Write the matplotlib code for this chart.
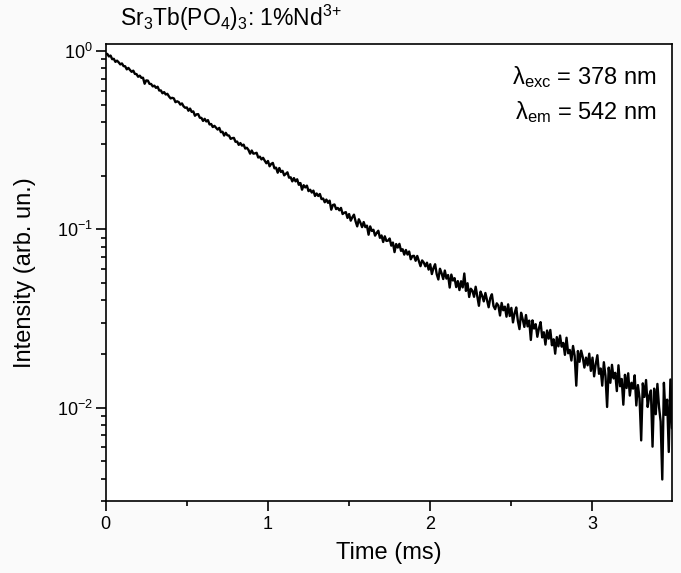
import numpy as np
import matplotlib
matplotlib.use("Agg")
import matplotlib.pyplot as plt
from matplotlib.ticker import LogLocator, MultipleLocator

plt.rcParams['font.family'] = ['Liberation Sans', 'DejaVu Sans']
plt.rcParams['mathtext.fontset'] = 'custom'
plt.rcParams['mathtext.rm'] = 'Liberation Sans'
plt.rcParams['mathtext.it'] = 'Liberation Sans:italic'
plt.rcParams['mathtext.bf'] = 'Liberation Sans:bold'
plt.rcParams['mathtext.default'] = 'regular'

dt = 0.01
intensity_0_05 = [
    0.966, 0.964, 0.933, 0.944, 0.901, 0.905, 0.870, 0.884, 0.865, 0.842,
    0.853, 0.824, 0.822, 0.790, 0.805, 0.783, 0.765, 0.777, 0.745, 0.743,
    0.718, 0.728, 0.708, 0.709, 0.656, 0.685, 0.683, 0.655, 0.654, 0.634,
    0.640, 0.622, 0.631, 0.601, 0.602, 0.580, 0.589, 0.571, 0.576, 0.557,
    0.543, 0.547, 0.543, 0.517, 0.523, 0.518, 0.501, 0.509, 0.490, 0.481,
]
intensity_05_10 = [
    0.483, 0.463, 0.476, 0.456, 0.459, 0.434, 0.442, 0.443, 0.423, 0.422,
    0.406, 0.417, 0.403, 0.410, 0.388, 0.390, 0.375, 0.381, 0.372, 0.363,
    0.371, 0.351, 0.353, 0.336, 0.348, 0.337, 0.336, 0.322, 0.325, 0.326,
    0.310, 0.311, 0.298, 0.305, 0.295, 0.299, 0.284, 0.287, 0.279, 0.266,
    0.277, 0.266, 0.267, 0.269, 0.253, 0.256, 0.247, 0.252, 0.243, 0.235,
]
intensity_10_15 = [
    0.242, 0.226, 0.233, 0.236, 0.220, 0.222, 0.208, 0.221, 0.210, 0.213,
    0.201, 0.205, 0.209, 0.195, 0.196, 0.186, 0.194, 0.186, 0.191, 0.178,
    0.182, 0.167, 0.177, 0.172, 0.176, 0.164, 0.167, 0.161, 0.165, 0.154,
    0.159, 0.154, 0.158, 0.148, 0.149, 0.142, 0.147, 0.141, 0.145, 0.129,
    0.137, 0.138, 0.130, 0.132, 0.128, 0.132, 0.122, 0.124, 0.125, 0.116,
]
intensity_15_20 = [
    0.122, 0.112, 0.117, 0.121, 0.111, 0.104, 0.114, 0.109, 0.103, 0.110,
    0.103, 0.105, 0.0934, 0.104, 0.0981, 0.0995, 0.0923, 0.0956, 0.0983, 0.0897,
    0.0925, 0.0850, 0.0915, 0.0862, 0.0865, 0.0889, 0.0811, 0.0844, 0.0746, 0.0828,
    0.0791, 0.0830, 0.0758, 0.0774, 0.0722, 0.0767, 0.0723, 0.0752, 0.0680, 0.0709,
    0.0711, 0.0667, 0.0710, 0.0663, 0.0622, 0.0670, 0.0652, 0.0621, 0.0651, 0.0595,
]
intensity_20_25 = [
    0.0638, 0.0562, 0.0607, 0.0638, 0.0561, 0.0524, 0.0602, 0.0568, 0.0527, 0.0588,
    0.0530, 0.0555, 0.0472, 0.0558, 0.0517, 0.0533, 0.0475, 0.0513, 0.0457, 0.0512,
    0.0473, 0.0566, 0.0452, 0.0499, 0.0418, 0.0465, 0.0453, 0.0419, 0.0477, 0.0422,
    0.0373, 0.0448, 0.0425, 0.0395, 0.0440, 0.0400, 0.0366, 0.0412, 0.0433, 0.0372,
    0.0357, 0.0385, 0.0374, 0.0329, 0.0387, 0.0352, 0.0369, 0.0324, 0.0380, 0.0327,
]
intensity_25_30 = [
    0.0363, 0.0301, 0.0339, 0.0365, 0.0307, 0.0276, 0.0341, 0.0313, 0.0284, 0.0331,
    0.0286, 0.0308, 0.0240, 0.0309, 0.0278, 0.0294, 0.0250, 0.0279, 0.0302, 0.0248,
    0.0265, 0.0226, 0.0271, 0.0244, 0.0273, 0.0224, 0.0242, 0.0201, 0.0249, 0.0221,
    0.0254, 0.0220, 0.0231, 0.0198, 0.0247, 0.0202, 0.0211, 0.0184, 0.0222, 0.0196,
    0.0133, 0.0208, 0.0181, 0.0209, 0.0192, 0.0168, 0.0191, 0.0173, 0.0201, 0.0161,
]
intensity_30_35 = [
    0.0191, 0.0150, 0.0176, 0.0197, 0.0155, 0.0166, 0.0133, 0.0180, 0.0151, 0.0101,
    0.0168, 0.0138, 0.0174, 0.0146, 0.0157, 0.0124, 0.0173, 0.0132, 0.0145, 0.0104,
    0.0153, 0.0129, 0.0156, 0.0117, 0.0138, 0.0128, 0.0152, 0.0103, 0.0134, 0.0113,
    0.00656, 0.0137, 0.0115, 0.0143, 0.0101, 0.0117, 0.0125, 0.00605, 0.0128, 0.00920,
    0.0136, 0.0101, 0.00836, 0.00396, 0.0138, 0.00912, 0.0111, 0.00565, 0.0144, 0.00766,
    0.0115,
]

intensity = np.array(intensity_0_05 + intensity_05_10 + intensity_10_15 + intensity_15_20
                     + intensity_20_25 + intensity_25_30 + intensity_30_35)
time = np.arange(len(intensity)) * dt

fig = plt.figure(figsize=(6.81, 5.73), dpi=100)
fig.patch.set_facecolor('#fafafa')
ax = fig.add_axes([0.1552, 0.1257, 0.8316, 0.798])

ax.plot(time, intensity, color='black', lw=1.7)

ax.set_yscale('log')
ax.set_xlim(0, 3.49)
ax.set_ylim(0.003, 1.1)

ax.xaxis.set_major_locator(MultipleLocator(1))
ax.xaxis.set_minor_locator(MultipleLocator(0.5))
ax.yaxis.set_major_locator(LogLocator(base=10))
ax.yaxis.set_minor_locator(LogLocator(base=10, subs=np.arange(2, 10)))
ax.yaxis.set_minor_formatter(plt.NullFormatter())

ax.tick_params(which='both', direction='out', top=False, right=False, width=1.2,
               labelsize=13)
ax.tick_params(which='major', length=7)
ax.tick_params(axis='y', pad=2)
ax.tick_params(axis='x', pad=4)
ax.tick_params(which='minor', length=3.5)
for s in ax.spines.values():
    s.set_linewidth(1.2)

ax.set_xlabel('Time (ms)', fontsize=17, labelpad=6)
ax.set_ylabel('Intensity (arb. un.)', fontsize=17, labelpad=15)

fig.text(0.176, 0.968, r'Sr$_3$Tb(PO$_4$)$_3$: 1%Nd$^{3{+}}$', fontsize=16.5,
         va='center')
ax.text(0.973, 0.927, r'$\lambda_{exc}$ = 378 nm', transform=ax.transAxes,
        ha='right', va='center', fontsize=17)
ax.text(0.973, 0.851, r'$\lambda_{em}$ = 542 nm', transform=ax.transAxes,
        ha='right', va='center', fontsize=17)

plt.savefig('out.png', dpi=100, facecolor=fig.get_facecolor())
